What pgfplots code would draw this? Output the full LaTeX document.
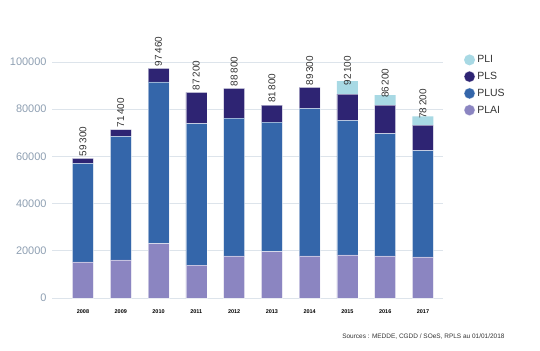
\documentclass[border=0pt]{standalone}
\usepackage{pgfplots}
\pgfplotsset{compat=1.18}
\usepackage{fontspec}
\setmainfont{Liberation Sans}
\definecolor{cPLAI}{HTML}{8B85C1}
\definecolor{cPLUS}{HTML}{3466AA}
\definecolor{cPLS}{HTML}{2E2473}
\definecolor{cPLI}{HTML}{A8D9E4}
\definecolor{tickc}{HTML}{8E9FB2}
\definecolor{gridc}{HTML}{DDE4EB}
\definecolor{txt}{HTML}{333333}
\begin{document}
\begin{tikzpicture}[x=1bp,y=1bp]
\path (0,0) rectangle (540,350);
\begin{axis}[
  at={(52bp,52bp)}, anchor=south west,
  scale only axis, width=391bp, height=236bp,
  xmin=-0.82, xmax=9.53, ymin=0, ymax=100000,
  ybar stacked, bar width=21bp,
  axis line style={draw=none},
  ymajorgrids, grid style={gridc, line width=0.8bp},
  ytick={0,20000,40000,60000,80000,100000},
  yticklabels={0,20000,40000,60000,80000,100000},
  scaled y ticks=false,
  yticklabel style={font=\fontsize{11}{12}\selectfont, color=tickc, anchor=east, xshift=-2bp},
  xtick={0,...,9},
  xticklabels={2008,2009,2010,2011,2012,2013,2014,2015,2016,2017},
  xticklabel style={font=\fontsize{5.5}{6}\selectfont\bfseries, color=black, yshift=-8bp},
  major tick length=0pt,
  clip=false,
  reverse legend,
  legend style={at={(1.045,1.045)}, anchor=north west, draw=none, fill=none,
    font=\fontsize{10.5}{12}\selectfont, text=txt, row sep=4bp,
    cells={anchor=west}},
  legend image code/.code={\fill[#1] (3bp,0bp) circle (5.5bp);},
]
\addplot[fill=cPLAI, draw=white, draw opacity=0.5, line width=0.5bp] coordinates {
(0,15300) (1,16200) (2,23000) (3,13900) (4,17900) (5,19600) (6,17900) (7,18300) (8,17900) (9,17400)};
\addlegendentry{PLAI}
\addplot[fill=cPLUS, draw=white, draw opacity=0.5, line width=0.5bp] coordinates {
(0,41700) (1,52300) (2,68600) (3,60000) (4,58300) (5,54900) (6,62500) (7,57000) (8,51800) (9,45000)};
\addlegendentry{PLUS}
\addplot[fill=cPLS, draw=white, draw opacity=0.5, line width=0.5bp] coordinates {
(0,2200) (1,2800) (2,5700) (3,13200) (4,12600) (5,7200) (6,8800) (7,11100) (8,12000) (9,10800)};
\addlegendentry{PLS}
\addplot[fill=cPLI, draw=none,
  point meta=explicit symbolic,
  nodes near coords,
  every node near coord/.append style={rotate=90, anchor=west, font=\fontsize{10}{12}\selectfont, text=txt, inner sep=2bp}]
 coordinates {
(0,1) [59\,300] (1,1) [71\,400] (2,1) [97\,460] (3,1) [87\,200] (4,1) [88\,800] (5,1) [81\,800] (6,1) [89\,300] (7,5500) [92\,100] (8,4300) [86\,200] (9,3800) [78\,200]};
\addlegendentry{PLI}
\end{axis}
\node[anchor=east, font=\fontsize{6.5}{7}\selectfont, text=txt] at (508,13) {Sources : MEDDE, CGDD / SOeS, RPLS au 01/01/2018};
\end{tikzpicture}
\end{document}
